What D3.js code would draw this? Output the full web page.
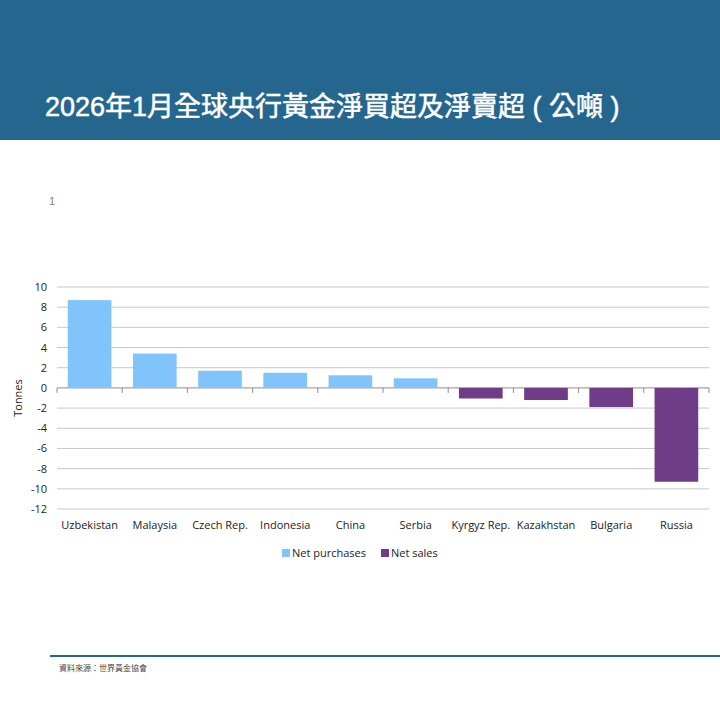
<!DOCTYPE html>
<html>
<head>
<meta charset="utf-8">
<script src="https://cdn.jsdelivr.net/npm/d3@7"></script>
<style>
  body { margin: 0; background: #fff; }
  svg { display: block; }
</style>
</head>
<body>
<svg id="chart" width="720" height="720"></svg>
<script>
// chart data (tonnes)
const countries = ["Uzbekistan", "Malaysia", "Czech Rep.", "Indonesia", "China",
                   "Serbia", "Kyrgyz Rep.", "Kazakhstan", "Bulgaria", "Russia"];
const netPurchases = [8.7, 3.4, 1.7, 1.5, 1.25, 0.95, null, null, null, null];
const netSales = [null, null, null, null, null, null, -1.05, -1.2, -1.9, -9.3];
const yTicks = [10, 8, 6, 4, 2, 0, -2, -4, -6, -8, -10, -12];
const seriesNames = ["Net purchases", "Net sales"];
const seriesColors = ["#80c4fb", "#6f3d87"];

const svg = d3.select("#chart");
const font = "'Open Sans', 'Noto Sans', sans-serif";

// header band
svg.append("rect")
    .attr("x", 0).attr("y", 0)
    .attr("width", 720).attr("height", 140)
    .attr("fill", "#25668f");

svg.append("text")
    .attr("x", 45)
    .attr("y", 116)
    .attr("fill", "#fff")
    .attr("stroke", "#fff")
    .attr("stroke-width", 0.5)
    .style("font-family", "'Liberation Sans', 'Noto Sans CJK TC', sans-serif")
    .style("font-size", "27px")
    .text("2026年1月全球央行黃金淨買超及淨賣超 ( 公噸 )");

svg.append("text")
    .attr("x", 49)
    .attr("y", 205)
    .attr("fill", "#808080")
    .style("font-family", "'Liberation Sans', sans-serif")
    .style("font-size", "11px")
    .text("1");

// plot area
const plotLeft = 57, plotRight = 709, plotTop = 287, plotBottom = 509;

const x = d3.scaleBand()
    .domain(countries)
    .range([plotLeft, plotRight])
    .paddingInner(0.33)
    .paddingOuter(0.165);

const y = d3.scaleLinear()
    .domain([-12, 10])
    .range([plotBottom, plotTop]);

// gridlines
svg.append("g")
    .selectAll("line")
    .data(yTicks)
    .join("line")
    .attr("x1", plotLeft).attr("x2", plotRight)
    .attr("y1", d => y(d)).attr("y2", d => y(d))
    .attr("stroke", d => d === 0 ? "#8c8c8c" : "#c8c8c8")
    .attr("stroke-width", 1);

// y axis labels (plain hyphen for negatives, as in the source)
const yAxis = d3.axisLeft(y).tickValues(yTicks).tickFormat(d => String(d))
    .tickSize(0).tickPadding(10);
svg.append("g")
    .attr("transform", `translate(${plotLeft},0)`)
    .call(yAxis)
    .call(g => g.select(".domain").remove())
    .call(g => g.selectAll("text")
        .attr("fill", "#222")
        .style("font-family", font)
        .style("font-size", "11px"));

svg.append("text")
    .attr("transform", `translate(22,${(plotTop + plotBottom) / 2}) rotate(-90)`)
    .attr("text-anchor", "middle")
    .attr("fill", "#222")
    .style("font-family", font)
    .style("font-size", "11px")
    .text("Tonnes");

// category tick marks on the zero line
const bounds = d3.range(countries.length + 1)
    .map(i => plotLeft + i * (plotRight - plotLeft) / countries.length);
svg.append("g")
    .selectAll("line")
    .data(bounds)
    .join("line")
    .attr("x1", d => d).attr("x2", d => d)
    .attr("y1", y(0)).attr("y2", y(0) + 5)
    .attr("stroke", "#8c8c8c");

// bars
const bars = svg.append("g");
[netPurchases, netSales].forEach((vals, s) => {
    bars.selectAll(null)
        .data(countries.map((c, i) => ({ c, v: vals[i] })).filter(d => d.v !== null))
        .join("rect")
        .attr("x", d => x(d.c))
        .attr("width", x.bandwidth())
        .attr("y", d => y(Math.max(0, d.v)))
        .attr("height", d => Math.abs(y(d.v) - y(0)))
        .attr("fill", seriesColors[s]);
});

// category labels
const xAxis = d3.axisBottom(x).tickSize(0).tickPadding(0);
svg.append("g")
    .attr("transform", `translate(0,${plotBottom + 20})`)
    .call(xAxis)
    .call(g => g.select(".domain").remove())
    .call(g => g.selectAll("text")
        .attr("dy", 0)
        .attr("fill", "#222")
        .style("font-family", font)
        .style("font-size", "11px"));

// legend
const legendX = [282, 381];
const legend = svg.append("g").selectAll("g")
    .data(seriesNames)
    .join("g")
    .attr("transform", (d, i) => `translate(${legendX[i]},553)`);
legend.append("rect")
    .attr("x", 0).attr("y", -4)
    .attr("width", 8).attr("height", 8)
    .attr("fill", (d, i) => seriesColors[i]);
legend.append("text")
    .attr("x", 10).attr("y", 4)
    .attr("fill", "#222")
    .style("font-family", font)
    .style("font-size", "11px")
    .text(d => d);

// footer
svg.append("line")
    .attr("x1", 50).attr("x2", 720)
    .attr("y1", 656).attr("y2", 656)
    .attr("stroke", "#25668f")
    .attr("stroke-width", 2);

svg.append("text")
    .attr("x", 59)
    .attr("y", 671)
    .attr("fill", "#444")
    .style("font-family", "'Noto Sans CJK TC', sans-serif")
    .style("font-size", "8px")
    .text("資料來源：世界黃金協會");
</script>
</body>
</html>
